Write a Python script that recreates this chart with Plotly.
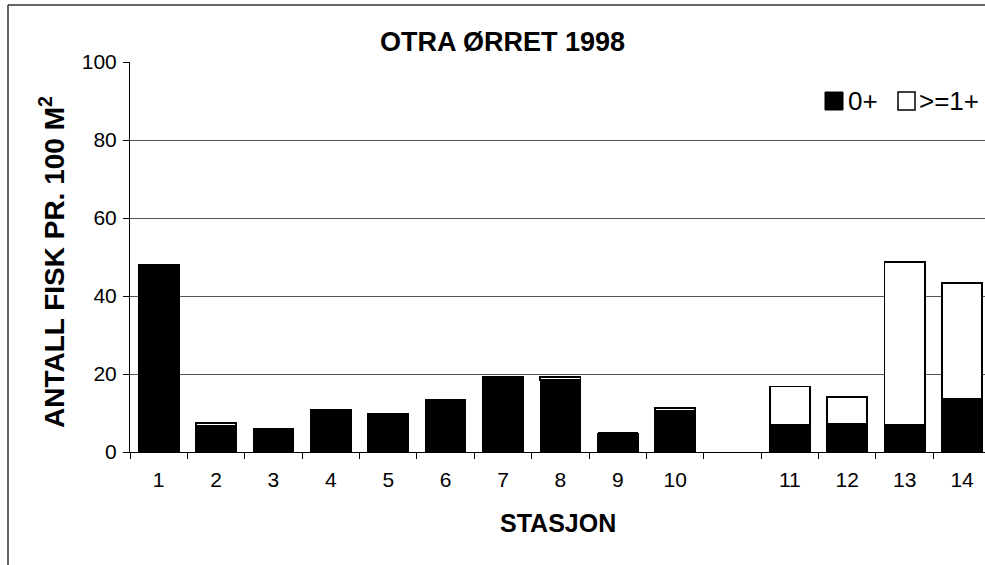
import plotly.graph_objects as go

# ---- data ----
stations = ["1", "2", "3", "4", "5", "6", "7", "8", "9", "10", " ", "11", "12", "13", "14"]
age0 = [48.0, 6.6, 5.9, 10.8, 9.7, 13.4, 19.2, 18.5, 4.8, 10.5, None, 6.9, 7.3, 6.9, 13.6]
age1plus = [0.0, 0.9, 0.0, 0.0, 0.0, 0.0, 0.0, 0.7, 0.0, 0.7, None, 9.9, 6.9, 41.9, 29.7]
series_names = ["0+", ">=1+"]
title_text = "OTRA ØRRET 1998"
y_title = "ANTALL FISK PR. 100 M<sup>2</sup>"
x_title = "STASJON"
y_ticks = [0, 20, 40, 60, 80, 100]

FONT = "Liberation Sans, Arial, sans-serif"
W, H = 985, 565
L, R, T, B = 130, 0, 62, 113
PW = W - L - R
PH = H - T - B


def px(xp):
    return (xp - L) / PW


def py(yp):
    return (H - B - yp) / PH


fig = go.Figure()
fig.add_trace(go.Bar(x=stations, y=age0, name=series_names[0],
                     marker=dict(color="black", line=dict(color="black", width=1.5)),
                     showlegend=False))
fig.add_trace(go.Bar(x=stations, y=age1plus, name=series_names[1],
                     marker=dict(color="white", line=dict(color="black", width=1.8)),
                     showlegend=False))

fig.update_layout(
    width=W, height=H,
    margin=dict(l=L, r=R, t=T, b=B),
    paper_bgcolor="white", plot_bgcolor="white",
    barmode="stack", bargap=0.3,
    font=dict(family=FONT, size=21, color="black"),
    showlegend=False,
)
fig.update_xaxes(type="category", categoryorder="array", categoryarray=stations,
                 range=[-0.5, 14.4], tickson="boundaries", ticks="outside", ticklen=6,
                 tickcolor="black", showline=True, linecolor="black", linewidth=1,
                 showgrid=False, ticklabelstandoff=9,
                 tickfont=dict(family=FONT, size=21, color="black"))
fig.update_yaxes(range=[0, 100], tickvals=y_ticks, ticks="outside", ticklen=6,
                 tickcolor="black", showline=True, linecolor="black", linewidth=1,
                 showgrid=True, gridcolor="#555555", gridwidth=1, zeroline=False,
                 ticklabelstandoff=2,
                 tickfont=dict(family=FONT, size=21, color="black"))

anns = [
    dict(text="<b>%s</b>" % title_text, x=px(502), y=py(42), xref="paper", yref="paper",
         showarrow=False, font=dict(family=FONT, size=27, color="black"),
         xanchor="center", yanchor="middle"),
    dict(text="<b>%s</b>" % y_title, x=px(52), y=py(262), xref="paper", yref="paper",
         showarrow=False, textangle=-90, font=dict(family=FONT, size=28, color="black"),
         xanchor="center", yanchor="middle"),
    dict(text="<b>%s</b>" % x_title, x=px(558), y=py(523), xref="paper", yref="paper",
         showarrow=False, font=dict(family=FONT, size=25, color="black"),
         xanchor="center", yanchor="middle"),
    dict(text=series_names[0], x=px(846), y=py(101), xref="paper", yref="paper",
         showarrow=False, font=dict(family=FONT, size=26, color="black"),
         xanchor="left", yanchor="middle"),
    dict(text=series_names[1], x=px(917), y=py(101), xref="paper", yref="paper",
         showarrow=False, font=dict(family=FONT, size=26, color="black"),
         xanchor="left", yanchor="middle"),
]
fig.update_layout(annotations=anns)

shapes = [
    # chart border (left and top edges visible in the reference)
    dict(type="line", xref="paper", yref="paper", x0=px(8), x1=px(8), y0=py(566), y1=py(5),
         line=dict(color="#333333", width=1.5)),
    dict(type="line", xref="paper", yref="paper", x0=px(8), x1=px(985), y0=py(5), y1=py(5),
         line=dict(color="#333333", width=1.5)),
    # legend keys
    dict(type="rect", xref="paper", yref="paper", x0=px(825), x1=px(843), y0=py(110), y1=py(92),
         line=dict(color="black", width=1), fillcolor="black"),
    dict(type="rect", xref="paper", yref="paper", x0=px(898), x1=px(915), y0=py(110), y1=py(92),
         line=dict(color="black", width=1.5), fillcolor="white"),
]
fig.update_layout(shapes=shapes)

fig.write_html("out.html", config={"displayModeBar": False},
               post_script="document.body.style.margin='0';document.body.style.overflow='hidden';")
